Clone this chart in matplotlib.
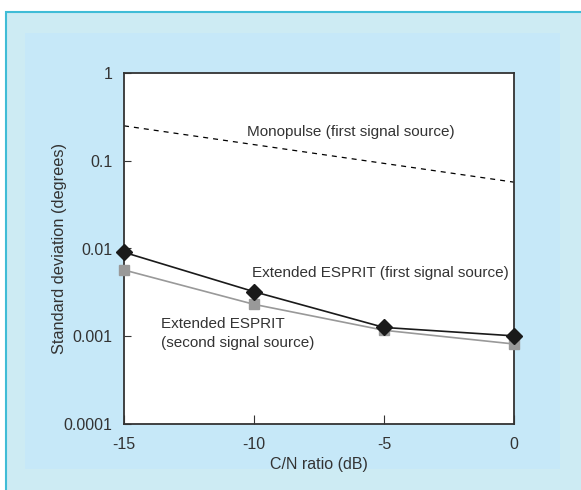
import numpy as np
import matplotlib
matplotlib.use("Agg")
from matplotlib import pyplot as plt
from matplotlib.patches import Rectangle
from matplotlib.ticker import FixedLocator, FixedFormatter, NullLocator

# data
cn_ratio = [-15, -10, -5, 0]
esprit_first = [0.00905, 0.00322, 0.00126, 0.00101]
esprit_second = [0.00569, 0.00231, 0.00117, 0.000816]
mono_x = [-15, 0]
mono_first = [0.25, 0.057]

y_ticks = [1, 0.1, 0.01, 0.001, 0.0001]
y_labels = ["1", "0.1", "0.01", "0.001", "0.0001"]
x_ticks = [-15, -10, -5, 0]
x_labels = ["-15", "-10", "-5", "0"]

W, H = 581, 490
plt.rcParams["font.family"] = ["Liberation Sans", "DejaVu Sans"]
txt = "#333333"

fig = plt.figure(figsize=(W / 100, H / 100), dpi=100)
fig.patch.set_facecolor("white")


def fx(px):
    return px / W


def fy(py):
    return 1 - py / H


# outer frame and inner panel
fig.patches.append(Rectangle((fx(6), fy(600)), fx(700), fy(12) - fy(600), transform=fig.transFigure,
                             facecolor="#cdebf3", edgecolor="#3fbcd6", linewidth=1.5, zorder=-2))
fig.patches.append(Rectangle((fx(25), fy(469)), fx(560) - fx(25), fy(33) - fy(469), transform=fig.transFigure,
                             facecolor="#c6e8f8", edgecolor="none", zorder=-1))

ax = fig.add_axes([fx(124), fy(424), fx(514) - fx(124), fy(73) - fy(424)])
ax.set_zorder(2)
ax.set_facecolor("white")
ax.set_yscale("log")
ax.set_xlim(-15, 0)
ax.set_ylim(0.0001, 1)

ax.plot(mono_x, mono_first, color="black", linestyle=(0, (4, 4)), linewidth=0.9, clip_on=False)
ax.plot(cn_ratio, esprit_second, color="#999999", linewidth=1.2, marker="s", markersize=7.5,
        markerfacecolor="#999999", markeredgecolor="#999999", clip_on=False, zorder=3)
ax.plot(cn_ratio, esprit_first, color="#1a1a1a", linewidth=1.2, marker="D", markersize=8,
        markerfacecolor="#1a1a1a", markeredgecolor="#1a1a1a", clip_on=False, zorder=4)

ax.yaxis.set_major_locator(FixedLocator(y_ticks))
ax.yaxis.set_major_formatter(FixedFormatter(y_labels))
ax.yaxis.set_minor_locator(NullLocator())
ax.xaxis.set_major_locator(FixedLocator(x_ticks))
ax.xaxis.set_major_formatter(FixedFormatter(x_labels))
ax.tick_params(axis="y", direction="in", length=5, width=0.8, pad=8.5, labelsize=11.5, colors="#333333")
ax.tick_params(axis="x", direction="in", length=6.5, width=0.8, pad=9, labelsize=11.5, colors="#333333")
for s in ax.spines.values():
    s.set_color("#333333")
    s.set_linewidth(1.3)

ax.set_xlabel("C/N ratio (dB)", fontsize=11.5, color=txt, labelpad=4)
ax.set_ylabel("Standard deviation (degrees)", fontsize=11.8, color=txt, labelpad=-3)

ax.text(-10.27, 0.25 * 10 ** (-0.07), "Monopulse (first signal source)", fontsize=11, color=txt, va="center")
ax.text(-10.08, 10 ** (-2.28), "Extended ESPRIT (first signal source)", fontsize=11, color=txt, va="center")
ax.text(-13.58, 10 ** (-2.97), "Extended ESPRIT\n(second signal source)", fontsize=11, color=txt,
        va="center", linespacing=1.45)

fig.savefig("out.png", dpi=100)
